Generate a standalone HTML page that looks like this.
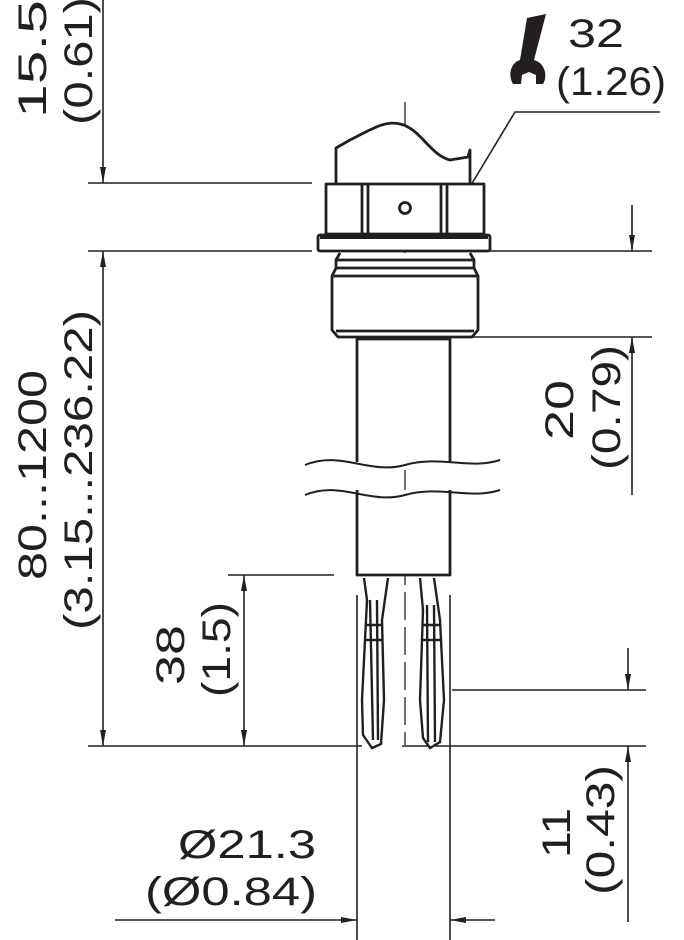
<!DOCTYPE html>
<html><head><meta charset="utf-8"><style>html,body{margin:0;padding:0;background:#fff}svg{display:block}text{font-family:"Liberation Sans",sans-serif;fill:#231f20}</style></head><body>
<svg width="684" height="940" viewBox="0 0 684 940" xmlns="http://www.w3.org/2000/svg">
<defs>
<marker id="a" viewBox="0 0 16 6" refX="16" refY="3" markerWidth="16" markerHeight="6" markerUnits="userSpaceOnUse" orient="auto"><path d="M0,0L16,3L0,6z" fill="#231f20"/></marker>
</defs>
<g stroke="#231f20" fill="none" stroke-width="1.6">
<line x1="88" y1="183" x2="312" y2="183"/>
<line x1="88" y1="251" x2="312" y2="251"/>
<line x1="88" y1="746" x2="362" y2="746"/>
<line x1="402" y1="746" x2="646" y2="746"/>
<line x1="228" y1="575" x2="334" y2="575"/>
<line x1="490" y1="251" x2="652" y2="251"/>
<line x1="465" y1="337" x2="652" y2="337"/>
<line x1="452" y1="690" x2="646" y2="690"/>
<line x1="357" y1="595" x2="357" y2="940"/>
<line x1="450" y1="595" x2="450" y2="940"/>
<line x1="103" y1="0" x2="103" y2="183" marker-end="url(#a)"/>
<line x1="103" y1="400" x2="103" y2="251" marker-end="url(#a)"/>
<line x1="103" y1="400" x2="103" y2="746" marker-end="url(#a)"/>
<line x1="244" y1="660" x2="244" y2="575" marker-end="url(#a)"/>
<line x1="244" y1="660" x2="244" y2="746" marker-end="url(#a)"/>
<line x1="632" y1="205" x2="632" y2="251" marker-end="url(#a)"/>
<line x1="632" y1="495" x2="632" y2="337" marker-end="url(#a)"/>
<line x1="628" y1="648" x2="628" y2="690" marker-end="url(#a)"/>
<line x1="628" y1="922" x2="628" y2="746" marker-end="url(#a)"/>
<line x1="115" y1="920" x2="357" y2="920" marker-end="url(#a)"/>
<line x1="495" y1="920" x2="450" y2="920" marker-end="url(#a)"/>
<polyline points="462,200 515,112 660,112"/>
<line x1="405" y1="102" x2="405" y2="745" stroke-dasharray="28,7" stroke-width="1.3"/>
</g>
<g stroke="#231f20" fill="#fff" stroke-width="2.8" stroke-linejoin="round">
<path d="M336,183 V148 L350,140 C370,130 385,120 400,124 C420,128 430,155 450,160 L468,157 L470,150 V183"/>
<rect x="326" y="184" width="158" height="50"/>
<line x1="362" y1="184" x2="362" y2="234"/><line x1="368" y1="184" x2="368" y2="234"/>
<line x1="441" y1="184" x2="441" y2="234"/><line x1="447" y1="184" x2="447" y2="234"/>
<circle cx="405" cy="208" r="5.5"/>
<rect x="318" y="235" width="172" height="16" rx="2"/>
<line x1="320" y1="237" x2="488" y2="237" stroke-width="4"/>
<path d="M340,253 L336,260 H474 L470,253 M336,260 V268 L332,276 V330 L338,337 H472 L478,330 V276 L474,268 V260 M332,276 H478 M336,268 H474"/>
<rect x="357" y="339" width="93" height="236"/>
<line x1="336" y1="331" x2="474" y2="331"/>
</g>
<g stroke="#231f20" fill="none" stroke-width="2">
<rect x="300" y="462" width="200" height="28" fill="#fff" stroke="none"/>
<path d="M305,465 C340,450 370,475 405,465 C440,455 470,470 500,460"/>
<path d="M305,495 C340,480 370,505 405,495 C440,485 470,500 500,490"/>
<line x1="405" y1="470" x2="405" y2="490" stroke-width="1.3"/>
</g>
<g stroke="#231f20" fill="#fff" stroke-width="2.4">
<path d="M364,578 L367,600 L362,700 L363,735 L372,748 L381,744 L384,700 L382,620 L388,578"/>
<path d="M370,600 L373,740 M377,600 L378,740 M366,625 H382 M366,640 H382"/>
<path d="M420,578 L423,610 L420,700 L423,738 L430,748 L440,742 L444,700 L440,620 L434,578"/>
<path d="M427,605 L428,742 M434,605 L435,742 M422,625 H440 M422,640 H440"/>
</g>
<path d="M527,18 L546,14 L534,60 C545,63 548,76 543,84 L536,84 L536,75 L529,72 L522,75 L521,84 L513,84 C507,74 512,62 520,60 Z" fill="#231f20"/>
<g font-size="40">
<text x="568" y="47" textLength="56" lengthAdjust="spacingAndGlyphs">32</text>
<text x="556" y="95" textLength="110" lengthAdjust="spacingAndGlyphs">(1.26)</text>
<text transform="translate(46,118) rotate(-90)" textLength="118" lengthAdjust="spacingAndGlyphs">15.5</text>
<text transform="translate(92,125) rotate(-90)" textLength="128" lengthAdjust="spacingAndGlyphs">(0.61)</text>
<text transform="translate(46,580) rotate(-90)" textLength="210" lengthAdjust="spacingAndGlyphs">80...1200</text>
<text transform="translate(92,630) rotate(-90)" textLength="320" lengthAdjust="spacingAndGlyphs">(3.15...236.22)</text>
<text transform="translate(184,685) rotate(-90)" textLength="60" lengthAdjust="spacingAndGlyphs">38</text>
<text transform="translate(230,697) rotate(-90)" textLength="95" lengthAdjust="spacingAndGlyphs">(1.5)</text>
<text transform="translate(573,440) rotate(-90)" textLength="60" lengthAdjust="spacingAndGlyphs">20</text>
<text transform="translate(620,470) rotate(-90)" textLength="125" lengthAdjust="spacingAndGlyphs">(0.79)</text>
<text transform="translate(570,858) rotate(-90)" textLength="50" lengthAdjust="spacingAndGlyphs">11</text>
<text transform="translate(614,895) rotate(-90)" textLength="130" lengthAdjust="spacingAndGlyphs">(0.43)</text>
<text x="178" y="858" textLength="138" lengthAdjust="spacingAndGlyphs">Ø21.3</text>
<text x="145" y="905" textLength="172" lengthAdjust="spacingAndGlyphs">(Ø0.84)</text>
</g>
</svg>
</body></html>
